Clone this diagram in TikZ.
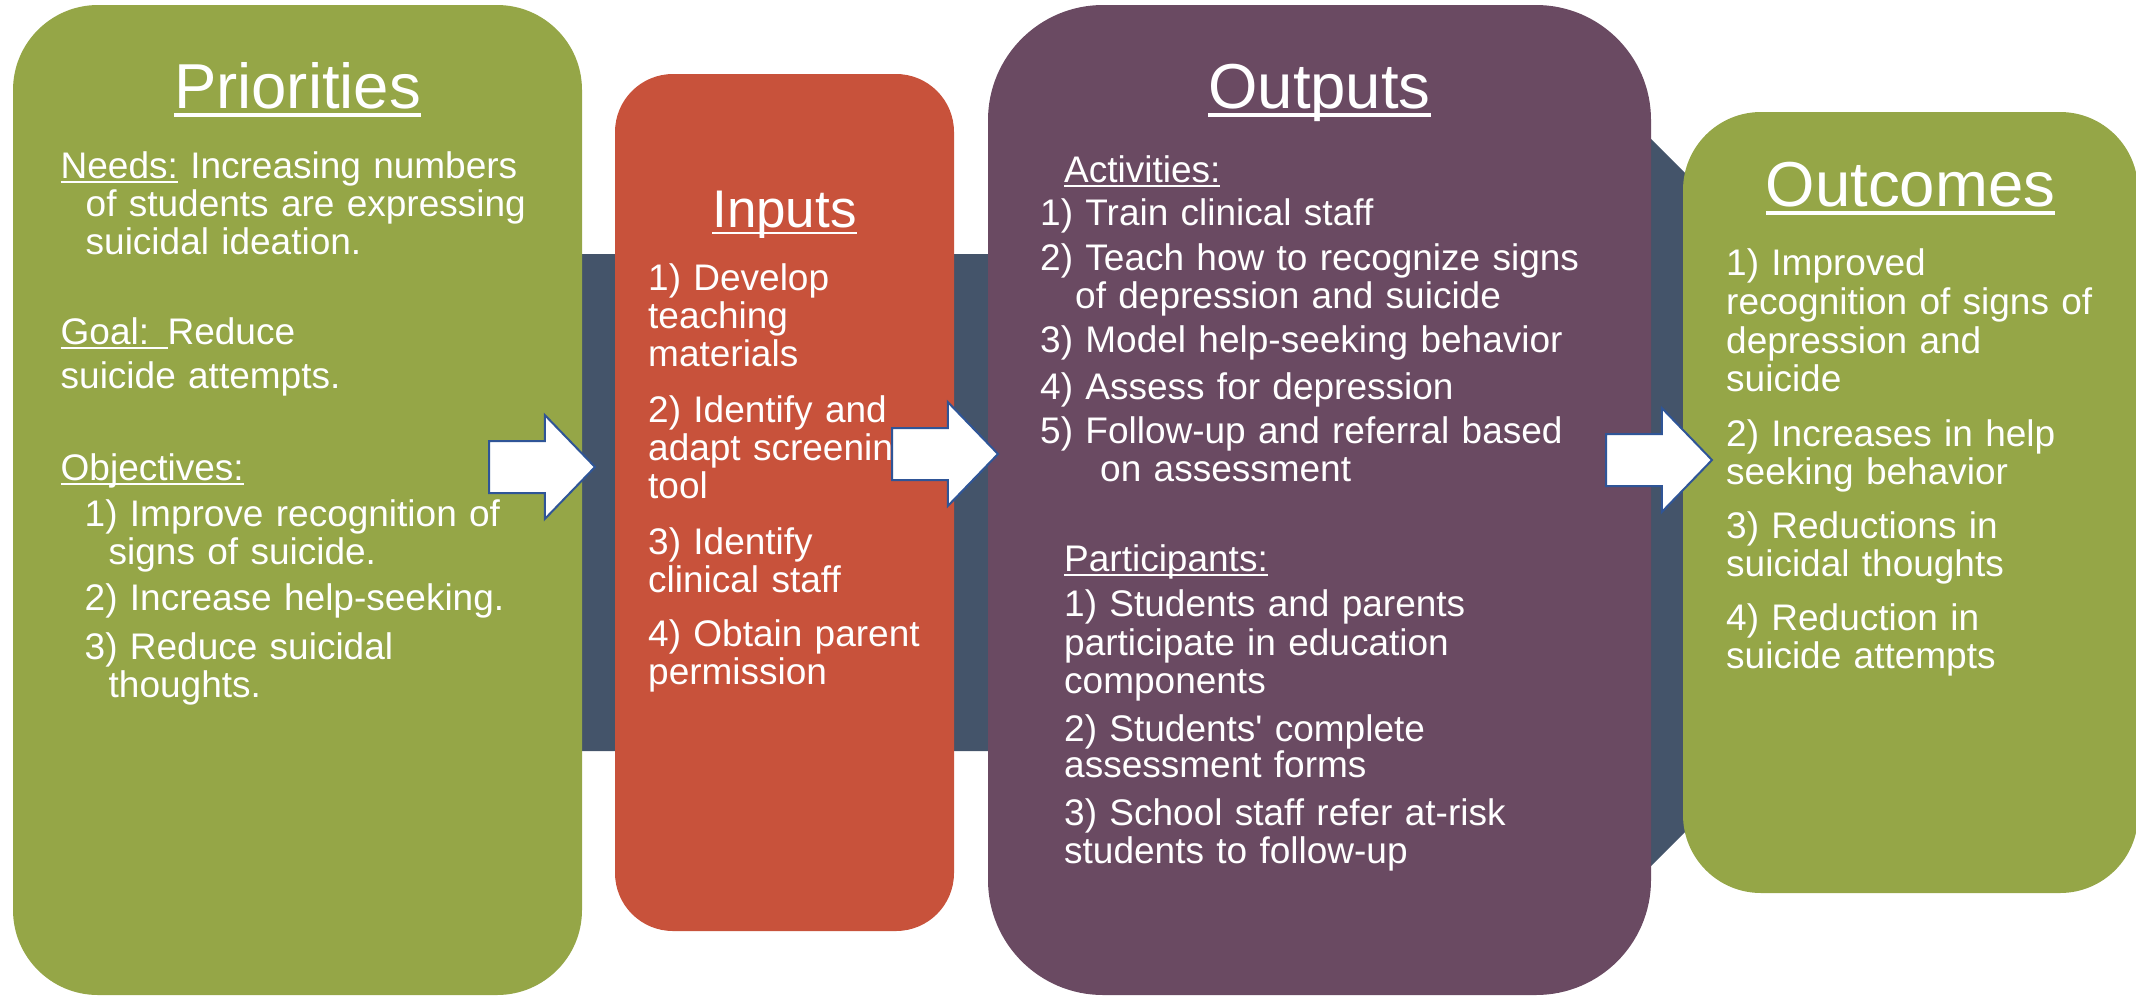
\documentclass[tikz,border=0pt]{standalone}
\usepackage{fontspec}
\setmainfont{Liberation Sans}[Ligatures=TeXOff]
\usetikzlibrary{shapes.arrows}

\definecolor{prioGreen}{HTML}{95A647}
\definecolor{inputRed}{HTML}{C8523B}
\definecolor{outputPurple}{HTML}{6A4A62}
\definecolor{bandBlue}{HTML}{44546A}
\definecolor{arrowBlue}{HTML}{2F5597}

\newsavebox\ulsave
\newcommand\ulbox[1]{\leavevmode\sbox\ulsave{#1}\rlap{\rule[-0.14em]{\wd\ulsave}{0.055em}}\usebox\ulsave}

\tikzset{
  box/.style={rectangle,inner sep=0pt,outer sep=0pt},
  boxtitle/.style={anchor=base,inner sep=0pt,text=white,font=\fontsize{63.5}{70}\selectfont},
  boxtext/.style={anchor=base west,inner sep=0pt,text=white,text width=600pt,align=left,
    font=\fontsize{37}{38}\selectfont},
  flowarrow/.style={single arrow,anchor=tip,draw=arrowBlue,fill=white,line width=2pt,
    minimum width=102pt,minimum height=106pt,single arrow head extend=26pt,
    single arrow tip angle=92,inner xsep=0pt,inner ysep=25pt,outer sep=0pt}
}

\begin{document}
\begin{tikzpicture}[x=1pt,y=-1pt]
\useasboundingbox (0,0) rectangle (2136,996);
% background band
\fill[bandBlue] (400,254) -- (1560,254) -- (1560,48) -- (2015,502.5)
  -- (1560,957) -- (1560,751) -- (400,751) -- cycle;

% boxes
\node[box,fill=prioGreen,minimum width=569pt,minimum height=990pt,rounded corners=85pt] (prio) at (297.5,500) {};
\node[box,fill=inputRed,minimum width=339pt,minimum height=857pt,rounded corners=58pt] (inp) at (784.5,502.5) {};
\node[box,fill=outputPurple,minimum width=663pt,minimum height=990pt,rounded corners=115pt] (outp) at (1319.5,500) {};
\node[box,fill=prioGreen,minimum width=455pt,minimum height=781pt,rounded corners=78pt] (outc) at (1910.5,502.5) {};

% titles
\node[boxtitle] (prioT) at (297.5,108) {\ulbox{Priorities}};
\node[boxtitle,font=\fontsize{53}{60}\selectfont] (inpT) at (784.5,227) {\ulbox{Inputs}};
\node[boxtitle] (outpT) at (1319.5,108) {\ulbox{Outputs}};
\node[boxtitle] (outcT) at (1910.5,206) {\ulbox{Outcomes}};

% texts
\node[boxtext] (prioB) at (60.5,178) {\ulbox{Needs:} Increasing numbers\\
\hspace*{25pt}of students are expressing\\
\hspace*{25pt}suicidal ideation.\\[52pt]
\ulbox{Goal: }Reduce\\[6pt]
suicide attempts.\\[54pt]
\ulbox{Objectives:}\\[8pt]
\hspace*{24pt}1) Improve recognition of\\
\hspace*{48pt}signs of suicide.\\[8pt]
\hspace*{24pt}2) Increase help-seeking.\\[11pt]
\hspace*{24pt}3) Reduce suicidal\\
\hspace*{48pt}thoughts.};

\node[boxtext] (inpB) at (648,290) {1) Develop\\
teaching\\
materials\\[18pt]
2) Identify and\\
adapt screening\\
tool\\[18pt]
3) Identify\\
clinical staff\\[16pt]
4) Obtain parent\\
permission};

\node[boxtext] (actB) at (1040,182) {\hspace*{24pt}\ulbox{Activities:}\\[5pt]
1) Train clinical staff\\[7pt]
2) Teach how to recognize signs\\
\hspace*{35pt}of depression and suicide\\[6pt]
3) Model help-seeking behavior\\[9pt]
4) Assess for depression\\[6pt]
5) Follow-up and referral based\\
\hspace*{60pt}on assessment};

\node[boxtext] (partB) at (1064,571) {\ulbox{Participants:}\\[7pt]
1) Students and parents\\[1pt]
participate in education\\
components\\[10pt]
2) Students' complete\\[-2pt]
assessment forms\\[10pt]
3) School staff refer at-risk\\
students to follow-up};

\node[boxtext] (outcB) at (1726,275) {1) Improved\\[1pt]
recognition of signs of\\[1pt]
depression and\\
suicide\\[17pt]
2) Increases in help\\
seeking behavior\\[16pt]
3) Reductions in\\
suicidal thoughts\\[16pt]
4) Reduction in\\
suicide attempts};

% arrows between boxes
\node[flowarrow] (arr1) at (595,467) {};
\node[flowarrow] (arr2) at (998,454) {};
\node[flowarrow] (arr3) at (1712,460) {};
\end{tikzpicture}
\end{document}
